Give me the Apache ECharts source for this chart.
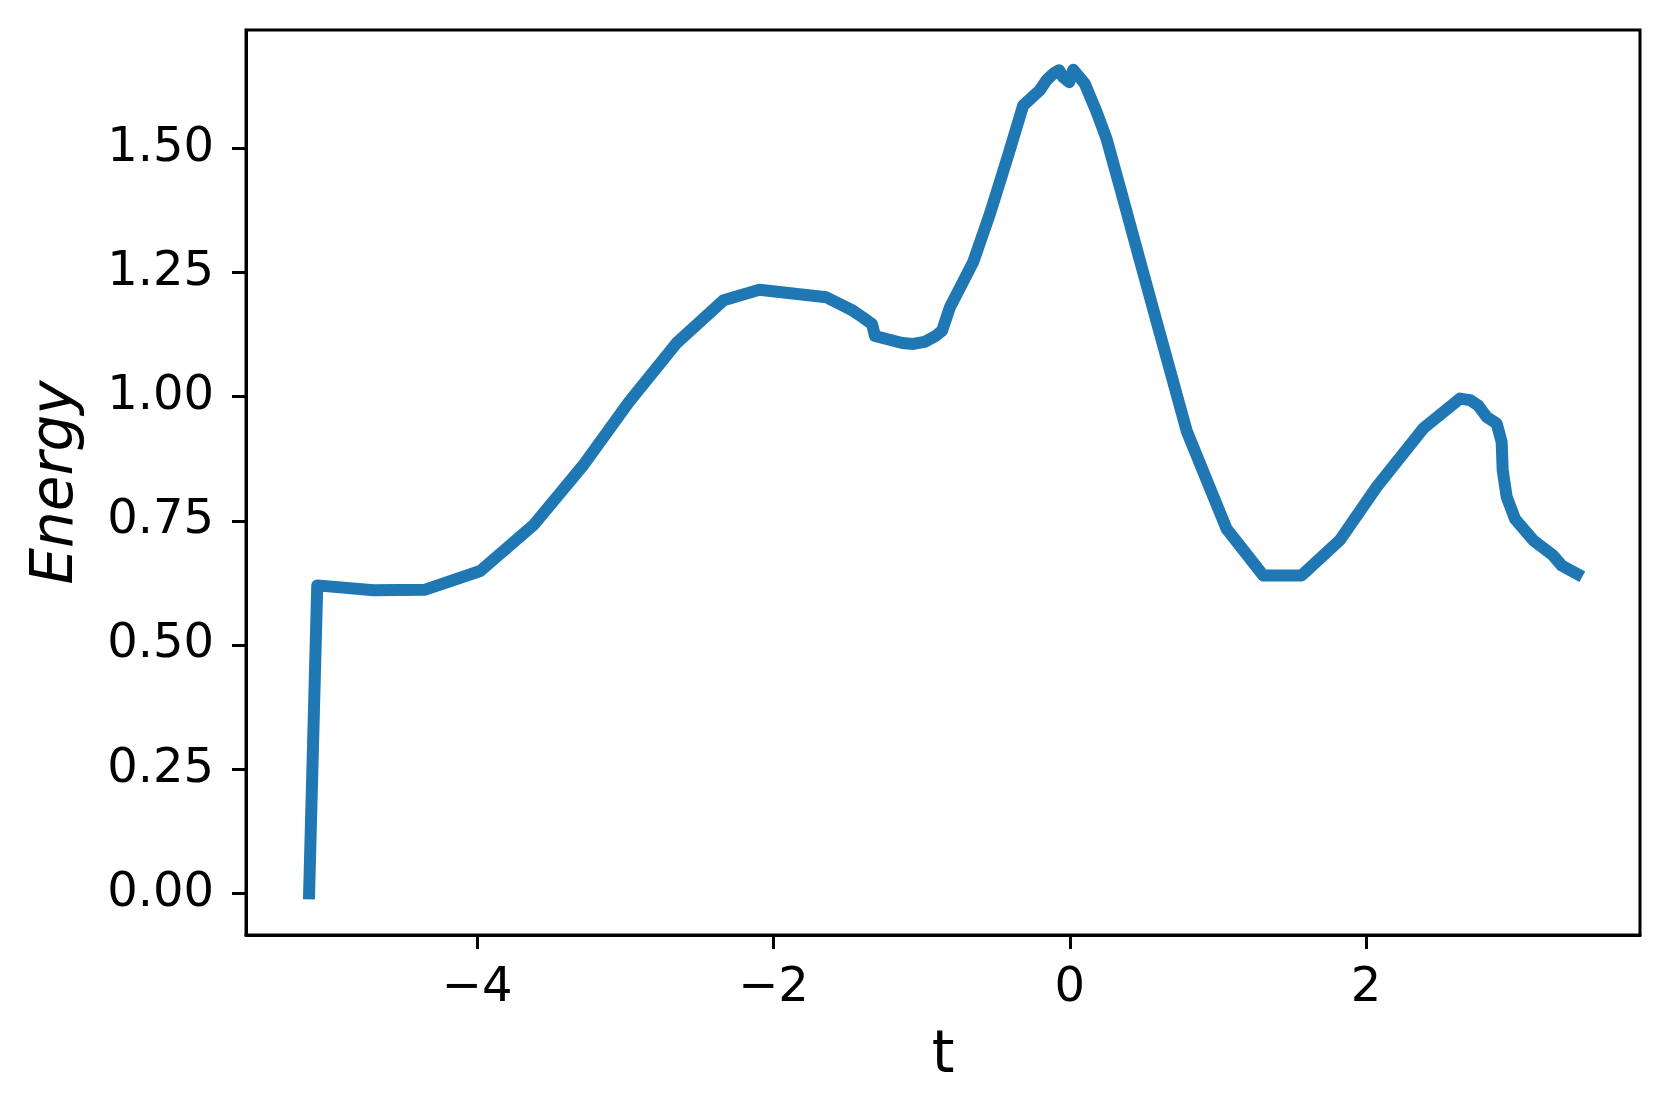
<!DOCTYPE html>
<html>
<head>
<meta charset="utf-8">
<script src="https://cdn.jsdelivr.net/npm/echarts@6/dist/echarts.min.js"></script>
<style>
  html, body {
    margin: 0;
    padding: 0;
    background: #fff;
  }
  #myChart {
    width: 1671px;
    height: 1116px;
  }
</style>
</head>
<body>
<div id="myChart"></div>
<script>
  // values
  var tValues = [-5.135, -5.08, -4.70, -4.356, -3.98, -3.618, -3.287, -2.976, -2.654, -2.337,
    -2.096, -1.644, -1.464, -1.40, -1.335, -1.315, -1.131, -1.056, -0.981, -0.906,
    -0.862, -0.809, -0.652, -0.539, -0.416, -0.315, -0.202, -0.157, -0.112, -0.072,
    -0.045, -0.004, 0.023, 0.101, 0.181, 0.248, 0.338, 0.473, 0.608, 0.79,
    1.058, 1.306, 1.565, 1.823, 2.071, 2.386, 2.634, 2.701, 2.757, 2.814,
    2.881, 2.915, 2.922, 2.949, 3.005, 3.128, 3.263, 3.320, 3.424];
  var energy = [0.0, 0.620, 0.610, 0.611, 0.649, 0.742, 0.861, 0.989, 1.108, 1.194,
    1.215, 1.200, 1.173, 1.160, 1.146, 1.122, 1.108, 1.106, 1.110, 1.122,
    1.133, 1.180, 1.271, 1.368, 1.486, 1.586, 1.617, 1.637, 1.650, 1.657,
    1.643, 1.633, 1.658, 1.630, 1.573, 1.519, 1.422, 1.274, 1.127, 0.930,
    0.734, 0.640, 0.640, 0.711, 0.818, 0.936, 0.996, 0.993, 0.982, 0.959,
    0.946, 0.909, 0.852, 0.798, 0.754, 0.711, 0.680, 0.660, 0.643];
  var xTicks = [-4, -2, 0, 2];
  var yTicks = [0, 0.25, 0.5, 0.75, 1.0, 1.25, 1.5];

  var points = [];
  for (var i = 0; i < tValues.length; i++) {
    points.push([tValues[i], energy[i]]);
  }

  var font = 'DejaVu Sans';

  var myChart = echarts.init(document.getElementById('myChart'));
  myChart.setOption({
    animation: false,
    backgroundColor: '#fff',
    grid: {
      left: 246,
      right: 31,
      top: 30,
      bottom: 181,
      show: true,
      borderColor: '#000',
      borderWidth: 3,
      containLabel: false
    },
    xAxis: {
      type: 'value',
      min: -5.561,
      max: 3.849,
      name: 't',
      nameLocation: 'middle',
      nameGap: 93,
      nameTextStyle: {fontFamily: font, fontSize: 58, color: '#000'},
      axisLine: {show: true, onZero: false, lineStyle: {color: '#000', width: 3}},
      axisTick: {show: true, inside: false, length: 14, lineStyle: {color: '#000', width: 3}, customValues: xTicks},
      axisLabel: {
        fontFamily: font, fontSize: 48, color: '#000', margin: 30,
        customValues: xTicks,
        formatter: function (v) {
          return v < 0 ? '\u2212' + Math.abs(v) : String(v);
        }
      },
      splitLine: {show: false}
    },
    yAxis: {
      type: 'value',
      min: -0.0838,
      max: 1.738,
      name: 'Energy',
      nameLocation: 'middle',
      nameGap: 160,
      nameTextStyle: {fontFamily: font, fontSize: 58, fontStyle: 'italic', color: '#000'},
      axisLine: {show: true, onZero: false, lineStyle: {color: '#000', width: 3}},
      axisTick: {show: true, inside: false, length: 14, lineStyle: {color: '#000', width: 3}, customValues: yTicks},
      axisLabel: {
        fontFamily: font, fontSize: 48, color: '#000', margin: 32,
        customValues: yTicks,
        formatter: function (v) {
          return v.toFixed(2);
        }
      },
      splitLine: {show: false}
    },
    series: [
      {
        type: 'line',
        data: points,
        showSymbol: false,
        silent: true,
        lineStyle: {color: '#1f77b4', width: 12, cap: 'square', join: 'round'}
      }
    ]
  });
</script>
</body>
</html>
